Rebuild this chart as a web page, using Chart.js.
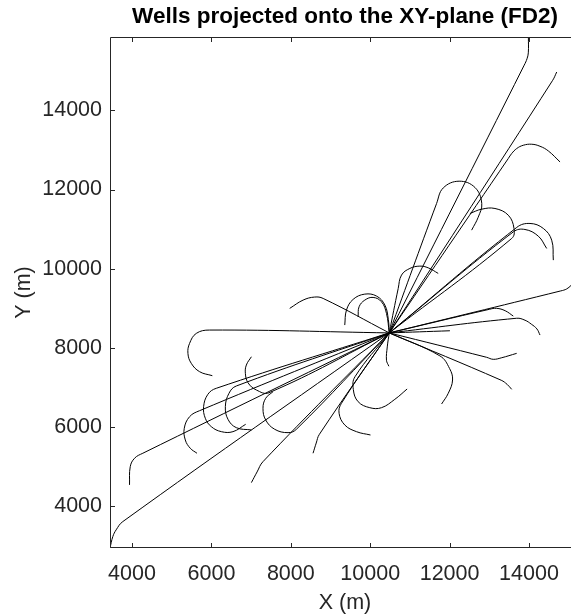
<!DOCTYPE html>
<html>
<head>
<meta charset="utf-8">
<title>Wells projected onto the XY-plane (FD2)</title>
<script src="https://cdn.jsdelivr.net/npm/chart.js@4.4.1/dist/chart.umd.min.js"></script>
<style>
    html, body { margin: 0; padding: 0; background: #fff; overflow: hidden; }
    #wrap { width: 571px; height: 614px; overflow: hidden; }
</style>
</head>
<body>
<div id="wrap"><canvas id="wellsChart" width="690" height="614"></canvas></div>
<script>
// =========================================================
// DATA (metres) - every well starts at the shared wellhead
// =========================================================
const wellhead = [10480, 8380];

const well01 = [[13880, 15140], [13950, 15300], [13983, 15450], [13985, 15850]];
const well02 = [[14597, 14757], [14698, 14966]];
const well03 = [[13478, 12782], [13564, 12908], [13690, 13034], [13856, 13117], [14068, 13143], [14277, 13092], [14487, 12974], [14782, 12696]];
const well04 = [[11672, 11647], [11840, 12040], [12240, 12210], [12640, 12050], [12810, 11650], [12720, 11300], [12555, 10974]];
const well05 = [[13564, 10764], [13622, 11017], [13478, 11352], [13143, 11521], [12807, 11503], [12512, 11395]];
const well06 = [[13690, 11042], [14025, 11143], [14361, 11017], [14572, 10721], [14613, 10217]];
const well07 = [[13606, 10931], [13899, 10991], [14235, 10822], [14446, 10512]];
const well08 = [[14800, 9440], [14950, 9490], [15060, 9580], [15285, 9800]];
const well09 = [[13000, 8975], [13185, 9000], [13400, 8940], [13604, 8805]];
const well10 = [[13690, 8750], [13900, 8700], [14060, 8600], [14200, 8480], [14277, 8326]];
const well11 = [[12008, 8434]];
const well12 = [[12930, 7765], [13100, 7713], [13300, 7750], [13690, 7864]];
const well13 = [[13300, 7185], [13450, 7080], [13564, 6956]];
const well14 = [[11755, 7800], [12000, 7480], [12075, 7191], [11966, 6855], [11798, 6585]];
const well15 = [[8815, 9250], [8600, 9285], [8309, 9208], [7972, 8999]];
const well16 = [[10456, 8723], [10370, 9082], [10161, 9309], [9864, 9359], [9569, 9226], [9402, 8956], [9359, 8578]];
const well17 = [[10410, 8871], [10284, 9166], [10073, 9276], [9864, 9208], [9720, 9040], [9695, 8787]];
const well18 = [[10430, 8027], [10410, 7690], [10470, 7538]];
const well19 = [[9617, 7274], [9575, 6950], [9695, 6644], [9990, 6492], [10284, 6492], [10620, 6703], [10930, 6964]];
const well20 = [[9275, 6602], [9216, 6350], [9359, 6056], [9654, 5887], [10007, 5803]];
const well21 = [[8720, 5820], [8640, 5600], [8560, 5342]];
const well22 = [[7299, 5130], [7150, 4870], [7007, 4601]];
const well23 = [[8141, 5947], [7930, 5862], [7594, 5947], [7367, 6182], [7299, 6476], [7367, 6729], [7552, 6897]];
const well24 = [[5955, 8452], [5619, 8368], [5450, 8116], [5408, 7864], [5492, 7612], [5703, 7400], [6023, 7300]];
const well25 = [[7451, 6870], [7132, 6939], [6921, 7123], [6855, 7360], [6880, 7569], [7007, 7778]];
const well26 = [[6123, 6982], [5911, 6830], [5803, 6517], [5846, 6225], [5997, 6013], [6250, 5887], [6543, 5887], [6863, 6073]];
const well27 = [[6627, 7040], [6442, 6855], [6351, 6517], [6417, 6199], [6627, 5988], [7007, 5930]];
const well28 = [[5703, 6417], [5450, 6265], [5316, 5972], [5342, 5677], [5467, 5468], [5636, 5342]];
const well29 = [[4272, 5342], [4064, 5216], [3955, 5004], [3937, 4543]];
const well30 = [[3768, 3617], [3600, 3408], [3516, 3238], [3445, 2950]];
const well31 = [[10705, 9500], [10789, 9840], [11000, 10008], [11251, 10066], [11461, 10023], [11713, 9882]];

const wells = [
    well01, well02, well03, well04, well05, well06, well07, well08, well09, well10,
    well11, well12, well13, well14, well15, well16, well17, well18, well19, well20,
    well21, well22, well23, well24, well25, well26, well27, well28, well29, well30, well31
];

const xTicks = [4000, 6000, 8000, 10000, 12000, 14000];
const yTicks = [4000, 6000, 8000, 10000, 12000, 14000];
const xLimits = [3445, 15285];
const yLimits = [2950, 15850];

const FONT = "'Liberation Sans', Arial, Helvetica, sans-serif";
const AXIS_COLOR = '#262626';

// =========================================================
// BOX + INWARD TICKS (matlab style axes)
// =========================================================
const axesBox = {
    id: 'axesBox',
    afterDraw: function (chart) {
        const ctx = chart.ctx;
        const a = chart.chartArea;
        const sx = chart.scales.x;
        const sy = chart.scales.y;
        const len = 5;
        ctx.save();
        ctx.strokeStyle = AXIS_COLOR;
        ctx.lineWidth = 1;
        ctx.beginPath();
        ctx.rect(a.left + 0.5, a.top + 0.5, a.right - a.left - 1, a.bottom - a.top - 1);
        xTicks.forEach(function (v) {
            const px = Math.round(sx.getPixelForValue(v)) + 0.5;
            ctx.moveTo(px, a.bottom);
            ctx.lineTo(px, a.bottom - len);
            ctx.moveTo(px, a.top);
            ctx.lineTo(px, a.top + len);
        });
        yTicks.forEach(function (v) {
            const py = Math.round(sy.getPixelForValue(v)) + 0.5;
            ctx.moveTo(a.left, py);
            ctx.lineTo(a.left + len, py);
            ctx.moveTo(a.right, py);
            ctx.lineTo(a.right - len, py);
        });
        ctx.stroke();
        ctx.restore();
    }
};

const datasets = wells.map(function (w, i) {
    return {
        label: 'well ' + (i + 1),
        data: [wellhead].concat(w).map(function (p) { return { x: p[0], y: p[1] }; }),
        showLine: true,
        fill: false,
        borderColor: '#000',
        borderWidth: 1,
        pointRadius: 0,
        tension: 0.4
    };
});

new Chart(document.getElementById('wellsChart'), {
    type: 'scatter',
    data: { datasets: datasets },
    options: {
        responsive: false,
        animation: false,
        layout: { padding: { left: 0, right: 110, top: 0, bottom: 0 } },
        plugins: {
            legend: { display: false },
            tooltip: { enabled: false },
            title: {
                display: true,
                fullSize: false,
                text: 'Wells projected onto the XY-plane (FD2)',
                color: '#000',
                font: { family: FONT, size: 22.5, weight: 'bold', lineHeight: 1.2 },
                padding: { top: 3, bottom: 7 }
            }
        },
        scales: {
            x: {
                type: 'linear',
                min: xLimits[0],
                max: xLimits[1],
                grid: { display: false, drawTicks: false },
                border: { display: false },
                afterBuildTicks: function (scale) {
                    scale.ticks = xTicks.map(function (v) { return { value: v }; });
                },
                afterFit: function (scale) { scale.height = 66; },
                ticks: {
                    color: AXIS_COLOR,
                    padding: 13,
                    maxRotation: 0,
                    font: { family: FONT, size: 21.5, lineHeight: 1.2 },
                    callback: function (v) { return String(v); }
                },
                title: {
                    display: true,
                    text: 'X (m)',
                    color: AXIS_COLOR,
                    font: { family: FONT, size: 21.5, lineHeight: 1 },
                    padding: { top: 0, bottom: 0 }
                }
            },
            y: {
                type: 'linear',
                min: yLimits[0],
                max: yLimits[1],
                grid: { display: false, drawTicks: false },
                border: { display: false },
                afterBuildTicks: function (scale) {
                    scale.ticks = yTicks.map(function (v) { return { value: v }; });
                },
                afterFit: function (scale) { scale.width = 110; },
                ticks: {
                    color: AXIS_COLOR,
                    padding: 8,
                    font: { family: FONT, size: 21.5, lineHeight: 1.2 },
                    callback: function (v) { return String(v); }
                },
                title: {
                    display: true,
                    text: 'Y (m)',
                    color: AXIS_COLOR,
                    font: { family: FONT, size: 21.5, lineHeight: 1 },
                    padding: { top: 13, bottom: 0 }
                }
            }
        }
    },
    plugins: [axesBox]
});
</script>
</body>
</html>
